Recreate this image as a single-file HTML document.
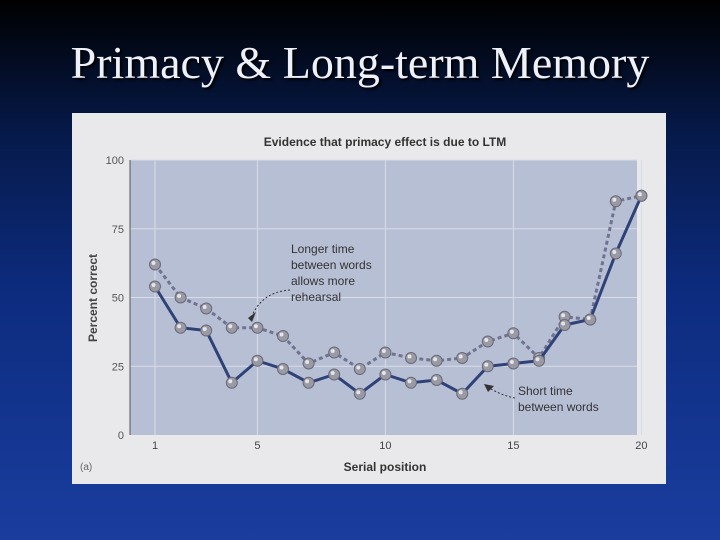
<!DOCTYPE html>
<html><head><meta charset="utf-8">
<style>
html,body{margin:0;padding:0}
body{width:720px;height:540px;overflow:hidden;background:linear-gradient(to bottom,#000 0%,#061a4a 25%,#0d2c80 55%,#1a3d9e 100%);position:relative;font-family:"Liberation Sans",sans-serif}
#title{position:absolute;left:0;top:39px;width:720px;text-align:center;font-family:"Liberation Serif",serif;font-size:46px;line-height:48px;color:#eef0fa;text-shadow:2px 2px 2px #000}
#chart{position:absolute;left:72px;top:113px}
</style></head><body>
<div id="title">Primacy &amp; Long-term Memory</div>
<svg id="chart" width="594" height="371" viewBox="72 113 594 371">
<rect x="72" y="113" width="594" height="371" fill="#e9e9ec"/>
<rect x="130" y="160" width="507" height="275" fill="#b7bfd5"/>
<text x="385" y="146" text-anchor="middle" font-size="12" font-weight="bold" fill="#333">Evidence that primacy effect is due to LTM</text>
<g id="grid"></g>
<line x1="130" y1="160" x2="130" y2="435" stroke="#555" stroke-width="1"/>
<g id="yticks"></g><g id="xticks"></g>
<text x="97" y="298" transform="rotate(-90 97 298)" text-anchor="middle" font-size="12" font-weight="bold" fill="#444">Percent correct</text>
<text x="385" y="471" text-anchor="middle" font-size="12" font-weight="bold" fill="#333">Serial position</text>
<text x="80" y="470" font-size="10" fill="#666">(a)</text>
<g id="series"></g>
<g font-size="12" fill="#333">
<text x="291" y="253">Longer time</text><text x="291" y="269">between words</text><text x="291" y="285">allows more</text><text x="291" y="301">rehearsal</text>
<path d="M290 290 Q262 292 252 316" fill="none" stroke="#333" stroke-dasharray="2,2"/>
<path d="M248 318 L256 312 L252 322 Z" fill="#333"/>
</g>
<g font-size="12" fill="#333">
<text x="518" y="395">Short time</text><text x="518" y="411">between words</text>
<path d="M515 398 Q500 395 488 387" fill="none" stroke="#333" stroke-dasharray="2,2"/>
<path d="M484 384 L494 386 L488 392 Z" fill="#333"/>
</g>
</svg>
<script>
const positions=[1,2,3,4,5,6,7,8,9,10,11,12,13,14,15,16,17,18,19,20];
const shortTime=[54,39,38,19,27,24,19,22,15,22,19,20,15,25,26,27,40,42,66,87];
const longerTime=[62,50,46,39,39,36,26,30,24,30,28,27,28,34,37,28,43,42,85,87];
const yTicks=[0,25,50,75,100];
const xTicks=[1,5,10,15,20];
const NS="http://www.w3.org/2000/svg";
const xs=v=>155+(v-1)*25.6;
const ys=v=>435-v*2.75;
function mk(t,a,p){const e=document.createElementNS(NS,t);for(const k in a)e.setAttribute(k,a[k]);p.appendChild(e);return e;}
const grid=document.getElementById('grid'),yt=document.getElementById('yticks'),xt=document.getElementById('xticks'),ser=document.getElementById('series');
yTicks.forEach(v=>{
 if(v>0){const g=mk('line',{x1:130,x2:637,y1:ys(v),y2:ys(v),stroke:'#d8dce8','stroke-width':1},grid);
 
 }
 const t=mk('text',{x:124,y:ys(v)+4,'text-anchor':'end','font-size':11,fill:'#555'},yt);t.textContent=v;
 
 
});
xTicks.forEach(v=>{
 const g=mk('line',{x1:xs(v),x2:xs(v),y1:160,y2:435,stroke:'#d8dce8','stroke-width':1},grid);
 
 
 const t=mk('text',{x:xs(v),y:449,'text-anchor':'middle','font-size':11,fill:'#444'},xt);t.textContent=v;
 
 
});
function series(vals,name,dash,color){
 const pts=positions.map((p,i)=>xs(p)+','+ys(vals[i])).join(' ');
 const l=mk('polyline',{points:pts,fill:'none',stroke:color,'stroke-width':3,'stroke-dasharray':dash},ser);
 
 
 positions.forEach((p,i)=>{
  const c=mk('circle',{cx:xs(p),cy:ys(vals[i]),r:5.5,fill:'#9a9aa4',stroke:'#6a6a78','stroke-width':1},ser);
  
  
  mk('circle',{cx:xs(p)-1.5,cy:ys(vals[i])-1.5,r:2,fill:'#e4e4ea'},ser);
 });
}
series(longerTime,'longer-time','4,3','#6f7390');
series(shortTime,'short-time','none','#2f4278');
</script>
</body></html>
